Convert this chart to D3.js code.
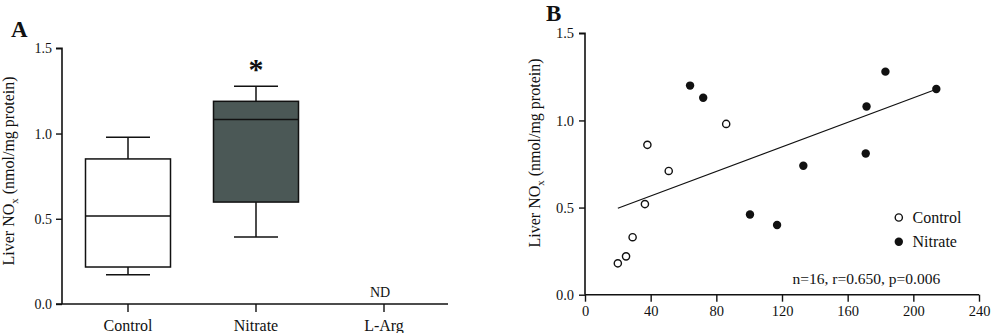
<!DOCTYPE html>
<html>
<head>
<meta charset="utf-8">
<script src="https://cdn.jsdelivr.net/npm/d3@7"></script>
<style>
  html, body { margin: 0; padding: 0; background: #fff; }
  svg { display: block; }
  text { font-family: "Liberation Serif", "Times New Roman", serif; fill: #111; }
  .domain, .tick line { stroke: #111; }
</style>
</head>
<body>
<svg id="chart" width="1000" height="333"></svg>
<script>
// Panel A: liver NOx by group (box plots)
const groups = ["Control", "Nitrate", "L-Arg"];
const whiskerLow  = [0.172, 0.393, null];
const quartile1   = [0.217, 0.598, null];
const medians     = [0.516, 1.082, null];
const quartile3   = [0.851, 1.189, null];
const whiskerHigh = [0.978, 1.277, null];
const boxFills    = ["#ffffff", "#4b5856", "#ffffff"];
const yTicksA     = [0, 0.5, 1.0, 1.5];

// Panel B: liver NOx vs. intake, per animal
const controlX = [20, 25, 29, 36.5, 38, 51, 86];
const controlY = [0.18, 0.22, 0.33, 0.52, 0.86, 0.71, 0.98];
const nitrateX = [64, 72, 100.5, 117, 133, 171, 171.5, 183, 214];
const nitrateY = [1.20, 1.13, 0.46, 0.40, 0.74, 0.81, 1.08, 1.28, 1.18];
const fitX = [20, 214];
const fitY = [0.496, 1.179];
const xTicksB = [0, 40, 80, 120, 160, 200, 240];
const yTicksB = [0, 0.5, 1.0, 1.5];
const statsLabel = "n=16, r=0.650, p=0.006";

const svg = d3.select("#chart");
const fmt = d3.format(".1f");

function yLabel(g, x, y) {
  const t = g.append("text")
    .attr("transform", `translate(${x},${y}) rotate(-90)`)
    .attr("text-anchor", "middle")
    .style("font-size", "16px");
  t.append("tspan").text("Liver NO");
  t.append("tspan").text("x").attr("baseline-shift", "-4").style("font-size", "11px");
  t.append("tspan").text(" (nmol/mg protein)");
}

// ---------- Panel A ----------
const gA = svg.append("g");
const xA = d3.scaleBand().domain(groups).range([64, 448]);
const yA = d3.scaleLinear().domain([0, 1.5]).range([304, 48.3]);
const axisXA = 62;

gA.append("g")
  .attr("transform", `translate(${axisXA},0)`)
  .call(d3.axisLeft(yA).tickValues(yTicksA).tickFormat(fmt).tickSize(6).tickPadding(4))
  .call(g => g.selectAll(".domain").attr("d", `M-6,${yA(1.5)}H0V${yA(0)}`).attr("stroke-width", 1.6))
  .call(g => g.selectAll(".tick line").attr("stroke-width", 1.4))
  .call(g => g.selectAll("text").style("font-size", "14px").attr("fill", "#111"));

gA.append("g")
  .attr("transform", `translate(0,${yA(0)})`)
  .call(d3.axisBottom(xA).tickSize(8).tickPadding(8))
  .call(g => g.select(".domain").attr("d", `M${axisXA - 6},0H${xA.range()[1]}`).attr("stroke-width", 1.6))
  .call(g => g.selectAll(".tick line").attr("stroke-width", 1.4))
  .call(g => g.selectAll("text").style("font-size", "16px").attr("fill", "#111"));

const boxW = 85, capW = 44;
groups.forEach((grp, i) => {
  if (medians[i] == null) return;
  const cx = xA(grp) + xA.bandwidth() / 2;
  const g = gA.append("g").attr("stroke", "#111").attr("stroke-width", 1.5);
  g.append("line").attr("x1", cx).attr("x2", cx).attr("y1", yA(quartile3[i])).attr("y2", yA(whiskerHigh[i]));
  g.append("line").attr("x1", cx).attr("x2", cx).attr("y1", yA(quartile1[i])).attr("y2", yA(whiskerLow[i]));
  g.append("line").attr("x1", cx - capW / 2).attr("x2", cx + capW / 2).attr("y1", yA(whiskerHigh[i])).attr("y2", yA(whiskerHigh[i]));
  g.append("line").attr("x1", cx - capW / 2).attr("x2", cx + capW / 2).attr("y1", yA(whiskerLow[i])).attr("y2", yA(whiskerLow[i]));
  g.append("rect")
    .attr("x", cx - boxW / 2).attr("width", boxW)
    .attr("y", yA(quartile3[i])).attr("height", yA(quartile1[i]) - yA(quartile3[i]))
    .attr("fill", boxFills[i]);
  g.append("line").attr("x1", cx - boxW / 2).attr("x2", cx + boxW / 2).attr("y1", yA(medians[i])).attr("y2", yA(medians[i]));
});

// significance mark above Nitrate, "not detected" for L-Arg
gA.append("text")
  .attr("x", xA("Nitrate") + xA.bandwidth() / 2).attr("y", yA(whiskerHigh[1]) - 7)
  .attr("text-anchor", "middle").style("font-size", "30px").style("font-weight", "bold")
  .text("*");
gA.append("text")
  .attr("x", xA("L-Arg") + xA.bandwidth() / 2 - 4).attr("y", 296.5)
  .attr("text-anchor", "middle").style("font-size", "14px")
  .text("ND");

gA.append("text").attr("x", 11).attr("y", 37)
  .style("font-size", "23px").style("font-weight", "bold").text("A");
yLabel(gA, 14, 171);

// ---------- Panel B ----------
const gB = svg.append("g");
const xB = d3.scaleLinear().domain([0, 240]).range([585, 979]);
const yB = d3.scaleLinear().domain([0, 1.5]).range([294.7, 33.3]);

gB.append("g")
  .attr("transform", `translate(${xB(0)},0)`)
  .call(d3.axisLeft(yB).tickValues(yTicksB).tickFormat(fmt).tickSize(6).tickPadding(5))
  .call(g => g.select(".domain").attr("d", `M-6,${yB(1.5)}H0V${yB(0)}`).attr("stroke-width", 1.6))
  .call(g => g.selectAll(".tick line").attr("stroke-width", 1.4))
  .call(g => g.selectAll("text").style("font-size", "14.5px").attr("fill", "#111"));

gB.append("g")
  .attr("transform", `translate(0,${yB(0)})`)
  .call(d3.axisBottom(xB).tickValues(xTicksB).tickSize(7).tickPadding(4))
  .call(g => g.select(".domain").attr("d", `M${xB(0)},0H${xB(240)}`).attr("stroke-width", 1.6))
  .call(g => g.selectAll(".tick line").attr("stroke-width", 1.4))
  .call(g => g.selectAll("text").style("font-size", "14.5px").attr("fill", "#111"));

gB.append("line")
  .attr("x1", xB(fitX[0])).attr("y1", yB(fitY[0]))
  .attr("x2", xB(fitX[1])).attr("y2", yB(fitY[1]))
  .attr("stroke", "#111").attr("stroke-width", 1.2);

gB.append("g").selectAll("circle")
  .data(d3.zip(controlX, controlY)).join("circle")
  .attr("cx", d => xB(d[0])).attr("cy", d => yB(d[1])).attr("r", 3.6)
  .attr("fill", "#fff").attr("stroke", "#111").attr("stroke-width", 1.4);

gB.append("g").selectAll("circle")
  .data(d3.zip(nitrateX, nitrateY)).join("circle")
  .attr("cx", d => xB(d[0])).attr("cy", d => yB(d[1])).attr("r", 4.2)
  .attr("fill", "#111");

// legend
const legend = [
  { label: "Control", open: true, y: 217.5 },
  { label: "Nitrate", open: false, y: 241.7 }
];
legend.forEach(d => {
  gB.append("circle").attr("cx", 898.8).attr("cy", d.y).attr("r", d.open ? 3.6 : 4.2)
    .attr("fill", d.open ? "#fff" : "#111").attr("stroke", d.open ? "#111" : "none").attr("stroke-width", 1.4);
  gB.append("text").attr("x", 912.5).attr("y", d.y + 5.5).style("font-size", "16px").text(d.label);
});

gB.append("text").attr("x", 792.5).attr("y", 284).style("font-size", "15.5px").text(statsLabel);

gB.append("text").attr("x", 546).attr("y", 21)
  .style("font-size", "23px").style("font-weight", "bold").text("B");
yLabel(gB, 540, 153);
</script>
</body>
</html>
